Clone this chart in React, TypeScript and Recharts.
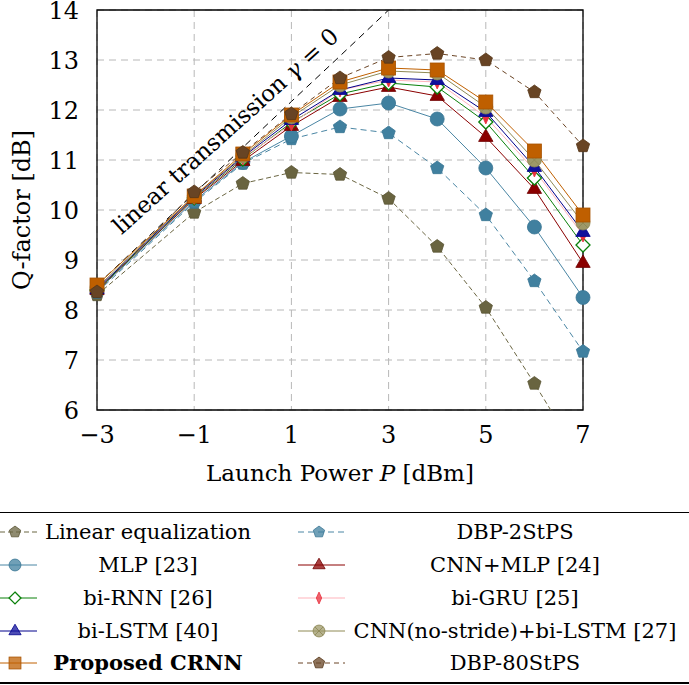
import React from 'react';
import { LineChart, Line, XAxis, YAxis, CartesianGrid, ReferenceArea, ReferenceDot } from 'recharts';

// launch power [dBm]
const powers = [-3, -1, 0, 1, 2, 3, 4, 5, 6, 7];
const xTicks = [-3, -1, 1, 3, 5, 7];
const yTicks = [6, 7, 8, 9, 10, 11, 12, 13, 14];

// Q-factor [dB] per method
const linEq = [8.3, 9.95, 10.53, 10.75, 10.71, 10.23, 9.27, 8.05, 6.53, 4.95];
const dbp2 = [8.35, 10.15, 10.93, 11.42, 11.66, 11.54, 10.84, 9.9, 8.58, 7.17];
const mlp = [8.38, 10.18, 10.95, 11.48, 12.02, 12.14, 11.82, 10.84, 9.66, 8.25];
const cnnMlp = [8.4, 10.22, 10.98, 11.68, 12.26, 12.46, 12.28, 11.46, 10.42, 8.94];
const biRnn = [8.4, 10.24, 11.02, 11.75, 12.32, 12.54, 12.46, 11.76, 10.64, 9.3];
const biGru = [8.42, 10.25, 11.04, 11.72, 12.4, 12.6, 12.56, 11.86, 10.8, 9.5];
const biLstm = [8.42, 10.26, 11.06, 11.8, 12.4, 12.64, 12.6, 11.96, 10.86, 9.56];
const cnnNs = [8.45, 10.28, 11.08, 11.86, 12.5, 12.78, 12.74, 12.06, 11.0, 9.74];
const crnn = [8.5, 10.28, 11.12, 11.9, 12.56, 12.84, 12.8, 12.16, 11.18, 9.9];
const dbp80 = [8.36, 10.36, 11.15, 11.92, 12.64, 13.05, 13.13, 13.0, 12.36, 11.28];
// linear transmission (gamma = 0), only up to 3 dBm
const linTx = [8.5, 10.33, 11.25, 12.17, 13.08, 14.0];

type Shape = 'pentagon' | 'circle' | 'square' | 'triangle' | 'diamond' | 'thin' | 'otimes';

interface Series {
  key: string;
  name: string;
  values: number[];
  color: string;
  fill: string;
  stroke: string;
  shape: Shape;
  size: number;
  dash?: string;
  bold?: boolean;
}

const series: Series[] = [
  { key: 'lin', name: 'Linear equalization', values: linEq, color: '#6b6642', fill: '#696440', stroke: '#5a5535', shape: 'pentagon', size: 7, dash: '5 3' },
  { key: 'dbp2', name: 'DBP-2StPS', values: dbp2, color: '#4a86a4', fill: '#40809f', stroke: '#3a7694', shape: 'pentagon', size: 7, dash: '6 4' },
  { key: 'mlp', name: 'MLP [23]', values: mlp, color: '#4a86a4', fill: '#40809f', stroke: '#3a7694', shape: 'circle', size: 7 },
  { key: 'cnnMlp', name: 'CNN+MLP [24]', values: cnnMlp, color: '#8b0000', fill: '#8b0000', stroke: '#700000', shape: 'triangle', size: 8 },
  { key: 'biRnn', name: 'bi-RNN [26]', values: biRnn, color: '#0a800a', fill: '#ffffff', stroke: '#0a800a', shape: 'diamond', size: 7 },
  { key: 'biGru', name: 'bi-GRU [25]', values: biGru, color: '#ffb3bb', fill: '#e8303c', stroke: '#e8303c', shape: 'thin', size: 7 },
  { key: 'biLstm', name: 'bi-LSTM [40]', values: biLstm, color: '#00008b', fill: '#10109c', stroke: '#00008b', shape: 'triangle', size: 8 },
  { key: 'cnnNs', name: 'CNN(no-stride)+bi-LSTM [27]', values: cnnNs, color: '#8f8a55', fill: '#9d9868', stroke: '#8a8552', shape: 'otimes', size: 7 },
  { key: 'crnn', name: 'Proposed CRNN', values: crnn, color: '#c06000', fill: '#bf5f00', stroke: '#a85300', shape: 'square', size: 7, bold: true },
  { key: 'dbp80', name: 'DBP-80StPS', values: dbp80, color: '#6b4526', fill: '#684424', stroke: '#553618', shape: 'pentagon', size: 7, dash: '5 4' },
];

const rows = powers.map((p, i) => {
  const row: Record<string, number | undefined> = { p, linTx: linTx[i] };
  series.forEach((s) => { row[s.key] = s.values[i]; });
  return row;
});

const serif = "'DejaVu Serif', serif";

function marker(shape: Shape, cx: number, cy: number, fill: string, stroke: string, s: number, key?: string, opacity = 1) {
  const common = { fill, stroke, strokeWidth: 0.8, fillOpacity: opacity };
  if (shape === 'circle' || shape === 'otimes') {
    const d = s * 0.7;
    return (
      <g key={key}>
        <circle cx={cx} cy={cy} r={s} {...common} />
        {shape === 'otimes' && (
          <path d={`M${cx - d},${cy - d}L${cx + d},${cy + d}M${cx - d},${cy + d}L${cx + d},${cy - d}`} stroke={stroke} strokeWidth={0.8} />
        )}
      </g>
    );
  }
  if (shape === 'square') {
    return <rect key={key} x={cx - s} y={cy - s} width={2 * s} height={2 * s} {...common} />;
  }
  let pts: number[][] = [];
  if (shape === 'pentagon') {
    pts = [0, 1, 2, 3, 4].map((k) => {
      const a = (-90 + 72 * k) * Math.PI / 180;
      return [cx + s * Math.cos(a), cy + s * Math.sin(a)];
    });
  } else if (shape === 'triangle') {
    pts = [[cx, cy - s], [cx + s * 0.9, cy + s * 0.55], [cx - s * 0.9, cy + s * 0.55]];
  } else if (shape === 'diamond') {
    pts = [[cx, cy - s], [cx + s, cy], [cx, cy + s], [cx - s, cy]];
  } else if (shape === 'thin') {
    pts = [[cx, cy - s], [cx + s * 0.45, cy], [cx, cy + s], [cx - s * 0.45, cy]];
  }
  return <polygon key={key} points={pts.map((q) => q.join(',')).join(' ')} {...common} strokeWidth={shape === 'diamond' ? 1.3 : 0.8} />;
}

const XTick = (props: any) => {
  const { x, y, payload } = props;
  const v = payload.value;
  return (
    <text x={x} y={y + 25} textAnchor="middle" fontFamily={serif} fontSize={24} fill="#000">
      {v < 0 ? `\u2212${Math.abs(v)}` : String(v)}
    </text>
  );
};

const YTick = (props: any) => {
  const { x, y, payload } = props;
  return (
    <text x={x - 10} y={y + 9} textAnchor="end" fontFamily={serif} fontSize={24} fill="#000">
      {payload.value}
    </text>
  );
};

const TxLabel = (props: any) => {
  const { cx, cy } = props;
  if (cx == null) return null;
  return (
    <text x={cx} y={cy} transform={`rotate(-42 ${cx} ${cy})`} textAnchor="middle" dominantBaseline="middle" fontFamily={serif} fontSize={23} fill="#000">
      linear transmission <tspan fontStyle="italic">γ</tspan> = 0
    </text>
  );
};

const LegendSample = ({ s, w, mx }: { s: Series; w: number; mx: number }) => (
  <svg width={w} height={20} style={{ display: 'block' }}>
    <line x1={0} y1={10} x2={w} y2={10} stroke={s.color} strokeWidth={1} strokeDasharray={s.dash} />
    {marker(s.shape, mx, 10, s.fill, s.stroke, s.size * 0.85, undefined, s.shape === 'diamond' ? 1 : 0.75)}
  </svg>
);

const rowY = [532, 565, 598, 631, 663];

export default function App() {
  return (
    <div style={{ position: 'absolute', left: 0, top: 0, width: 689, height: 685, background: '#fff', fontFamily: serif }}>
      <LineChart width={689} height={500} data={rows} margin={{ top: 10, right: 106, left: 0, bottom: 0 }}>
        <CartesianGrid stroke="#b8b8b8" strokeDasharray="7 5" strokeWidth={1} />
        <XAxis
          dataKey="p"
          type="number"
          domain={[-3, 7]}
          ticks={xTicks}
          height={90}
          axisLine={false}
          tickLine={false}
          tick={<XTick />}
          label={{
            position: 'insideBottom',
            content: () => (
              <text x={340} y={481} textAnchor="middle" fontFamily={serif} fontSize={23} fill="#000">
                Launch Power <tspan fontStyle="italic">P</tspan> [dBm]
              </text>
            ),
          }}
        />
        <YAxis
          type="number"
          domain={[6, 14]}
          ticks={yTicks}
          allowDataOverflow
          width={97}
          axisLine={false}
          tickLine={false}
          tick={<YTick />}
          label={{
            content: () => (
              <text x={30} y={210} transform="rotate(-90 30 210)" textAnchor="middle" fontFamily={serif} fontSize={24} fill="#000">
                Q-factor [dB]
              </text>
            ),
          }}
        />
        <Line
          dataKey="linTx"
          stroke="#000"
          strokeWidth={1}
          strokeDasharray="7 5"
          dot={false}
          isAnimationActive={false}
          connectNulls={false}
        />
        {series.map((s) => (
          <Line
            key={s.key}
            dataKey={s.key}
            name={s.name}
            stroke={s.color}
            strokeWidth={1}
            strokeDasharray={s.dash}
            isAnimationActive={false}
            activeDot={false}
            dot={(props: any) => marker(s.shape, props.cx, props.cy, s.fill, s.stroke, s.size, `${s.key}-${props.index}`)}
          />
        ))}
        <ReferenceArea x1={-3} x2={7} y1={6} y2={14} fill="none" stroke="#000" strokeWidth={1.3} />
        <ReferenceDot x={-0.33} y={11.55} r={0} shape={<TxLabel />} />
      </LineChart>
      <div style={{ position: 'absolute', left: 0, top: 512, width: 689, height: 1.3, background: '#000' }} />
      <div style={{ position: 'absolute', left: 0, top: 682, width: 689, height: 1.6, background: '#000' }} />
      {series.map((s, i) => {
        const col = i % 2;
        const r = Math.floor(i / 2);
        const y = rowY[r];
        const sampleLeft = col === 0 ? 0 : 298;
        const sampleW = col === 0 ? 37 : 47;
        const mx = col === 0 ? 15 : 21;
        const textCenter = col === 0 ? 148 : 515;
        return (
          <React.Fragment key={s.key}>
            <div style={{ position: 'absolute', left: sampleLeft, top: y - 10 }}>
              <LegendSample s={s} w={sampleW} mx={mx} />
            </div>
            <div
              style={{
                position: 'absolute',
                left: textCenter - 200,
                width: 400,
                top: y - 15,
                height: 30,
                lineHeight: '30px',
                textAlign: 'center',
                fontSize: 21,
                fontWeight: s.bold ? 'bold' : 'normal',
                whiteSpace: 'nowrap',
              }}
            >
              {s.name}
            </div>
          </React.Fragment>
        );
      })}
    </div>
  );
}
